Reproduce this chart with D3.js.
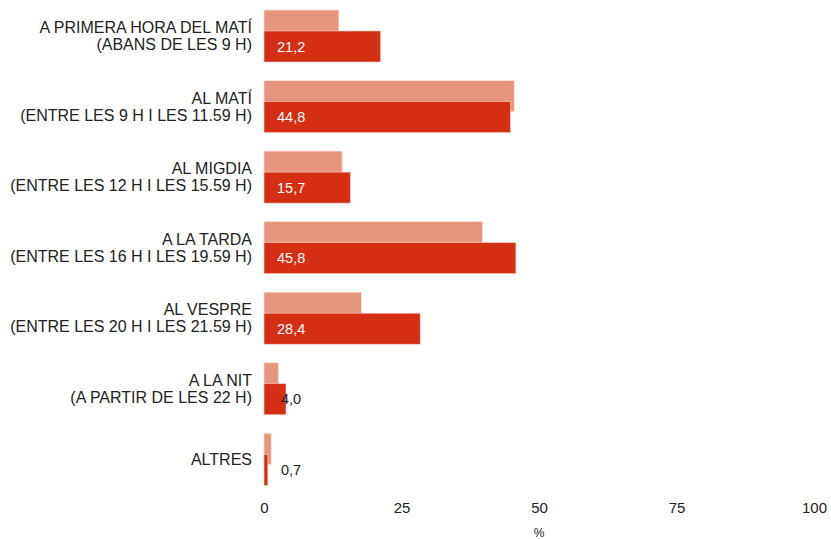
<!DOCTYPE html>
<html>
<head>
<meta charset="utf-8">
<script src="https://cdn.jsdelivr.net/npm/d3@7"></script>
<style>
  html, body { margin: 0; padding: 0; background: #fff; }
  svg { display: block; font-family: "Liberation Sans", Arial, sans-serif; }
</style>
</head>
<body>
<svg id="chart" width="831" height="539"></svg>
<script>
const categories = [
  ["A PRIMERA HORA DEL MATÍ", "(ABANS DE LES 9 H)"],
  ["AL MATÍ", "(ENTRE LES 9 H I LES 11.59 H)"],
  ["AL MIGDIA", "(ENTRE LES 12 H I LES 15.59 H)"],
  ["A LA TARDA", "(ENTRE LES 16 H I LES 19.59 H)"],
  ["AL VESPRE", "(ENTRE LES 20 H I LES 21.59 H)"],
  ["A LA NIT", "(A PARTIR DE LES 22 H)"],
  ["ALTRES"]
];
const previousValues = [13.6, 45.5, 14.2, 39.7, 17.7, 2.6, 1.3];
const currentValues = [21.2, 44.8, 15.7, 45.8, 28.4, 4.0, 0.7];
const xTicks = [0, 25, 50, 75, 100];
const xAxisLabel = "%";

const svg = d3.select("#chart");
const keys = categories.map(c => c.join(" "));

const x = d3.scaleLinear().domain([0, 100]).range([264, 814]);
const y = d3.scaleBand().domain(keys).range([10, 10 + 7 * 70.55]).padding(0);
const barH = 31;
const offset = 21;

const lightColor = "#E8957E";
const darkColor = "#D42E13";
const textColor = "#222222";

const data = keys.map((k, i) => ({ key: k, lines: categories[i], prev: previousValues[i], cur: currentValues[i] }));

const g = svg.append("g");

// light bars (previous)
g.selectAll("rect.prev").data(data).join("rect")
  .attr("class", "prev")
  .attr("x", x(0))
  .attr("y", d => y(d.key))
  .attr("width", d => x(d.prev) - x(0))
  .attr("height", barH)
  .attr("fill", lightColor)
  .attr("stroke", "#fbe3dc").attr("stroke-width", 0.6);

// dark bars (current)
g.selectAll("rect.cur").data(data).join("rect")
  .attr("class", "cur")
  .attr("x", x(0))
  .attr("y", d => y(d.key) + offset)
  .attr("width", d => x(d.cur) - x(0))
  .attr("height", barH)
  .attr("fill", darkColor)
  .attr("stroke", "#f6cfc6").attr("stroke-width", 0.6);

// value labels
g.selectAll("text.val").data(data).join("text")
  .attr("class", "val")
  .attr("x", d => d.cur > 10 ? x(0) + 13 : x(0) + 17)
  .attr("y", d => y(d.key) + offset + barH / 2)
  .attr("dy", "0.35em")
  .attr("font-size", 14.5)
  .attr("fill", d => d.cur > 10 ? "#ffffff" : textColor)
  .text(d => d3.format(".1f")(d.cur).replace(".", ","));

// category labels
const lab = g.selectAll("text.cat").data(data).join("text")
  .attr("class", "cat")
  .attr("text-anchor", "end")
  .attr("font-size", 16)
  .attr("fill", textColor);
lab.each(function(d) {
  const t = d3.select(this);
  const cy = y(d.key) + (offset + barH) / 2 + 5.5;
  const n = d.lines.length;
  d.lines.forEach((line, j) => {
    t.append("tspan")
      .attr("x", 252)
      .attr("y", cy + (j - (n - 1) / 2) * 17)
      .text(line);
  });
});

// x axis
const axis = d3.axisBottom(x).tickValues(xTicks).tickSize(0).tickPadding(3).tickFormat(d3.format("d"));
const ax = svg.append("g").attr("transform", "translate(0,499)").call(axis);
ax.select(".domain").remove();
ax.selectAll("text").attr("font-size", 15).attr("fill", textColor)
  .attr("font-family", "Liberation Sans, Arial, sans-serif");

svg.append("text")
  .attr("x", x(50))
  .attr("y", 537)
  .attr("text-anchor", "middle")
  .attr("font-size", 12)
  .attr("fill", textColor)
  .text(xAxisLabel);
</script>
</body>
</html>
